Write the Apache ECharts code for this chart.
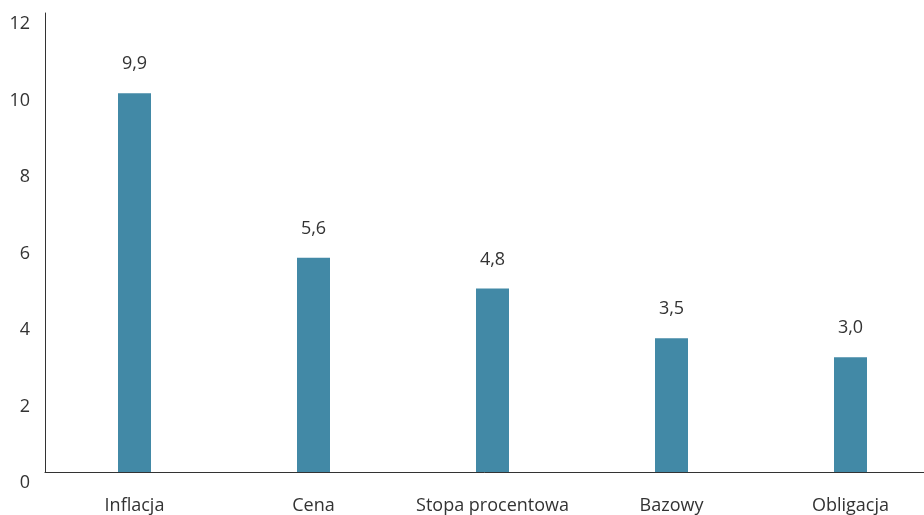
<!DOCTYPE HTML>
<html>
	<head>
		<meta charset="utf-8">
		<title></title>
		<style type="text/css">
			html, body { margin: 0; padding: 0; background: #fff; }
		</style>
	</head>
	<body>
		<div id="main" style="width: 924px;height:515px;"></div>
	</body>
	<script type="text/javascript" src="https://cdn.jsdelivr.net/npm/echarts@6/dist/echarts.min.js"></script>
	<script type="text/javascript">
		var categories = ['Inflacja', 'Cena', 'Stopa procentowa', 'Bazowy', 'Obligacja'];
		var values = [9.9, 5.6, 4.8, 3.5, 3.0];
		var yTicks = [0, 2, 4, 6, 8, 10, 12];

		var fontName = 'Open Sans';

		option = {
			animation : false,
			grid : {
				left : 45,
				width : 895,
				top : 13,
				bottom : 43,
				containLabel : false,
				outerBoundsMode : 'none'
			},
			xAxis : {
				type : 'category',
				data : categories,
				axisLine : {
					lineStyle : { color : '#333', width : 1 }
				},
				axisTick : { show : false },
				axisLabel : {
					interval : 0,
					margin : 25,
					color : '#333',
					fontSize : 18,
					fontFamily : fontName
				}
			},
			yAxis : {
				type : 'value',
				min : yTicks[0],
				max : yTicks[yTicks.length - 1],
				interval : 2,
				splitLine : { show : false },
				axisTick : { show : false },
				axisLine : {
					show : true,
					lineStyle : { color : '#333', width : 1 }
				},
				axisLabel : {
					margin : 15,
					color : '#333',
					fontSize : 18,
					fontFamily : fontName,
					verticalAlign : 'top',
					padding : [2, 0, 0, 0]
				}
			},
			series : [{
				type : 'bar',
				data : values,
				barWidth : 33,
				itemStyle : { color : '#4289a6' },
				label : {
					show : true,
					position : 'top',
					distance : 20,
					color : '#333',
					fontSize : 18,
					fontFamily : fontName,
					formatter : function(p) {
						return p.value.toFixed(1).replace('.', ',');
					}
				}
			}]
		};

		var myChart = echarts.init(document.getElementById('main'));
		myChart.setOption(option);
	</script>
</html>
